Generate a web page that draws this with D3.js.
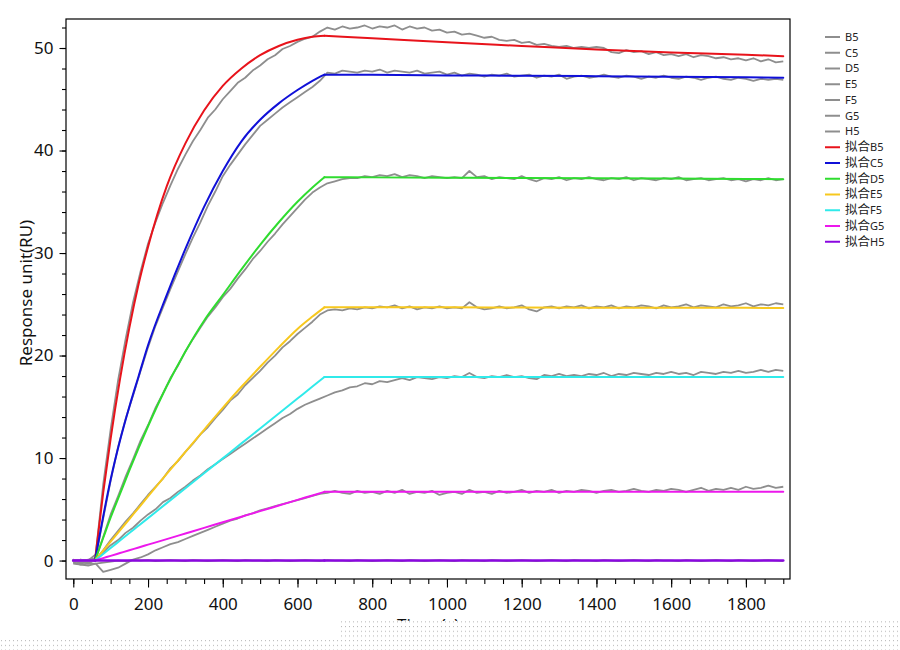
<!DOCTYPE html>
<html>
<head>
<meta charset="utf-8">
<script src="https://cdn.jsdelivr.net/npm/d3@7"></script>
<style>
    body { margin: 0; background: #fff; }
    text { font-family: "Noto Sans", "Noto Sans CJK SC", sans-serif; }
</style>
</head>
<body>
<div id="chart"></div>
<script>
// ---- data ----
var wells = ["B5", "C5", "D5", "E5", "F5", "G5", "H5"]
var legendLabels = ["B5", "C5", "D5", "E5", "F5", "G5", "H5",
    "拟合B5", "拟合C5", "拟合D5", "拟合E5", "拟合F5", "拟合G5", "拟合H5"]

var xTicks = [0, 200, 400, 600, 800, 1000, 1200, 1400, 1600, 1800]
var xMinorTicks = [0, 50, 100, 150, 200, 250, 300, 350, 400, 450, 500, 550, 600, 650, 700, 750, 800, 850, 900, 950,
    1000, 1050, 1100, 1150, 1200, 1250, 1300, 1350, 1400, 1450, 1500, 1550, 1600, 1650, 1700, 1750, 1800, 1850, 1900]
var yTicks = [0, 10, 20, 30, 40, 50]
var yMinorTicks = [0, 2, 4, 6, 8, 10, 12, 14, 16, 18, 20, 22, 24, 26, 28, 30, 32, 34, 36, 38, 40, 42, 44, 46, 48, 50, 52]

// measured curves (s, RU)
var timeRaw = [0, 20, 40, 60, 80, 100, 120, 140, 160, 180,
    200, 220, 240, 260, 280, 300, 320, 340, 360, 380,
    400, 420, 440, 460, 480, 500, 520, 540, 560, 580,
    600, 620, 640, 660, 680, 700, 720, 740, 760, 780,
    800, 820, 840, 860, 880, 900, 920, 940, 960, 980,
    1000, 1020, 1040, 1060, 1080, 1100, 1120, 1140, 1160, 1180,
    1200, 1220, 1240, 1260, 1280, 1300, 1320, 1340, 1360, 1380,
    1400, 1420, 1440, 1460, 1480, 1500, 1520, 1540, 1560, 1580,
    1600, 1620, 1640, 1660, 1680, 1700, 1720, 1740, 1760, 1780,
    1800, 1820, 1840, 1860, 1880, 1900]

var rawB5 = [0.1, -0.2, 0.0, 0.6, 7.4, 12.8, 17.6, 21.6, 25.2, 28.2,
    30.9, 33.0, 34.9, 36.6, 38.2, 39.6, 40.9, 42.0, 43.2, 44.0,
    45.0, 45.8, 46.6, 47.1, 47.8, 48.3, 48.9, 49.3, 49.9, 50.2,
    50.6, 50.9, 51.1, 51.6, 52.0, 51.8, 52.1, 51.9, 52.0, 52.2,
    51.9, 52.1, 52.0, 52.2, 51.8, 52.1, 51.9, 52.0, 51.7, 51.8,
    51.5, 51.6, 51.3, 51.4, 51.2, 51.0, 51.1, 50.8, 50.7, 50.8,
    50.5, 50.6, 50.3, 50.4, 50.2, 50.1, 50.2, 50.0, 50.1, 50.0,
    50.1, 50.0, 49.6, 49.5, 49.8, 49.6, 49.7, 49.4, 49.6, 49.3,
    49.4, 49.2, 49.4, 49.1, 49.3, 49.2, 49.0, 49.1, 48.9, 49.0,
    48.8, 49.0, 48.7, 48.9, 48.6, 48.7]

var rawC5 = [-0.1, 0.1, -0.2, 0.3, 4.1, 7.8, 11.1, 13.8, 16.1, 18.5,
    20.8, 22.9, 24.7, 26.5, 28.2, 29.9, 31.5, 33.0, 34.6, 36.0,
    37.5, 38.6, 39.6, 40.6, 41.5, 42.4, 43.0, 43.6, 44.2, 44.7,
    45.2, 45.7, 46.2, 46.8, 47.6, 47.5, 47.8, 47.7, 47.6, 47.8,
    47.7, 47.9, 47.6, 47.8, 47.7, 47.6, 47.8, 47.5, 47.6, 47.7,
    47.4, 47.6, 47.3, 47.5, 47.4, 47.2, 47.4, 47.3, 47.5, 47.2,
    47.3, 47.4, 47.1, 47.3, 47.2, 47.4, 47.0, 47.2, 47.3, 47.1,
    47.2, 47.4, 47.2, 47.1, 47.3, 47.2, 47.0, 47.2, 47.1, 47.3,
    47.1, 47.0, 47.2, 47.1, 46.9, 47.1, 47.2, 47.0, 46.9, 47.1,
    47.0, 46.8, 47.0, 46.9, 47.0, 46.9]

var rawD5 = [0.0, -0.2, 0.1, 0.2, 2.3, 4.5, 6.3, 8.2, 9.9, 11.7,
    13.2, 14.9, 16.3, 17.8, 19.0, 20.4, 21.6, 22.7, 23.8, 24.7,
    25.7, 26.5, 27.5, 28.4, 29.4, 30.2, 31.1, 31.9, 32.8, 33.6,
    34.4, 35.2, 35.9, 36.4, 36.8, 37.0, 37.2, 37.3, 37.3, 37.5,
    37.4, 37.6, 37.5, 37.7, 37.4, 37.6, 37.5, 37.3, 37.5, 37.4,
    37.3, 37.4, 37.3, 38.0, 37.4, 37.5, 37.2, 37.4, 37.3, 37.2,
    37.5, 37.2, 37.0, 37.3, 37.2, 37.4, 37.1, 37.3, 37.2, 37.4,
    37.2, 37.1, 37.3, 37.2, 37.4, 37.1, 37.3, 37.2, 37.1, 37.3,
    37.2, 37.4, 37.1, 37.2, 37.3, 37.1, 37.2, 37.3, 37.1, 37.2,
    37.0, 37.2, 37.1, 37.3, 37.1, 37.2]

var rawE5 = [-0.2, 0.0, -0.3, 0.1, 1.0, 2.0, 2.9, 3.8, 4.6, 5.5,
    6.4, 7.2, 8.0, 9.0, 9.7, 10.6, 11.4, 12.3, 13.0, 13.9,
    14.7, 15.6, 16.2, 17.1, 17.8, 18.5, 19.3, 20.0, 20.8, 21.4,
    22.1, 22.7, 23.3, 24.0, 24.4, 24.5, 24.4, 24.6, 24.5, 24.7,
    24.6, 24.8, 24.7, 24.9, 24.6, 24.8, 24.5, 24.7, 24.6, 24.8,
    24.6, 24.7, 24.6, 25.2, 24.7, 24.5, 24.6, 24.8, 24.6, 24.7,
    24.9, 24.5, 24.3, 24.7, 24.8, 24.6, 24.8, 24.7, 24.9, 24.6,
    24.8, 24.7, 24.9, 24.6, 24.8, 24.7, 24.9, 24.8, 24.6, 24.9,
    24.7, 24.8, 25.0, 24.7, 24.9, 24.8, 24.7, 25.0, 24.8, 24.9,
    25.1, 24.8, 25.0, 24.9, 25.1, 25.0]

var rawF5 = [0.1, -0.3, -0.1, 0.0, 0.8, 1.5, 2.0, 2.7, 3.2, 3.9,
    4.5, 5.0, 5.7, 6.1, 6.7, 7.2, 7.8, 8.3, 8.9, 9.4,
    9.9, 10.4, 10.9, 11.4, 11.9, 12.4, 12.9, 13.4, 13.9, 14.3,
    14.8, 15.2, 15.5, 15.8, 16.1, 16.4, 16.6, 16.9, 17.0, 17.3,
    17.2, 17.5, 17.4, 17.6, 17.8, 17.6, 17.9, 17.8, 17.7, 17.9,
    17.8, 18.0, 17.9, 18.3, 17.9, 17.8, 18.0, 17.9, 18.1, 17.9,
    18.0, 17.8, 17.7, 18.1, 18.0, 18.2, 18.0, 18.1, 18.0, 18.2,
    18.1, 18.3, 18.0, 18.2, 18.1, 18.3, 18.2, 18.1, 18.3, 18.2,
    18.4, 18.2, 18.3, 18.1, 18.4, 18.3, 18.2, 18.4, 18.3, 18.5,
    18.3, 18.4, 18.6, 18.4, 18.6, 18.5]

var rawG5 = [-0.2, -0.4, -0.3, -0.3, -1.1, -0.9, -0.7, -0.3, 0.1, 0.3,
    0.6, 1.0, 1.3, 1.6, 1.8, 2.1, 2.4, 2.7, 3.0, 3.3,
    3.6, 3.9, 4.1, 4.4, 4.6, 4.9, 5.1, 5.3, 5.5, 5.7,
    5.9, 6.1, 6.3, 6.5, 6.6, 6.8, 6.6, 6.5, 6.8, 6.6,
    6.7, 6.5, 6.8, 6.6, 6.9, 6.5, 6.7, 6.6, 6.8, 6.4,
    6.6, 6.7, 6.5, 6.9, 6.6, 6.7, 6.5, 6.8, 6.6, 6.7,
    6.9, 6.6, 6.8, 6.7, 6.9, 6.6, 6.8, 6.7, 6.9, 6.8,
    6.6, 6.8, 6.9, 6.7, 6.8, 7.0, 6.8, 6.7, 6.9, 6.8,
    7.0, 6.9, 6.7, 6.9, 7.1, 6.8, 7.0, 6.9, 7.1, 6.9,
    7.2, 7.0, 7.1, 7.3, 7.1, 7.2]

var rawH5 = [-0.3, -0.4, -0.5, -0.3, -0.2, -0.1, 0.0, -0.05, 0.05, 0.0,
    0.05, -0.05, 0.0, 0.05, 0.0, -0.05, 0.05, 0.0, -0.05, 0.0,
    0.05, 0.0, -0.05, 0.05, 0.0, 0.0, -0.05, 0.05, 0.0, -0.05,
    0.0, 0.05, 0.0, -0.05, 0.05, 0.0, 0.0, -0.05, 0.05, 0.0,
    -0.05, 0.0, 0.05, 0.0, -0.05, 0.05, 0.0, -0.05, 0.0, 0.05,
    0.0, -0.05, 0.05, 0.0, 0.0, -0.05, 0.05, 0.0, -0.05, 0.0,
    0.05, 0.0, -0.05, 0.0, 0.05, 0.0, -0.05, 0.05, 0.0, 0.0,
    -0.05, 0.05, 0.0, -0.05, 0.0, 0.05, 0.0, -0.05, 0.05, 0.0,
    0.0, -0.05, 0.05, 0.0, -0.05, 0.0, 0.05, 0.0, -0.05, 0.05,
    0.0, -0.05, 0.0, 0.05, 0.0, -0.05]

// fitted curves: baseline, association and dissociation phases
var baseT = [0, 58]
var assocT = [58, 80, 100, 125, 150, 175, 200, 250, 300, 350, 400, 450, 500, 550, 600, 640, 672]
var dissocT = [672, 800, 1000, 1200, 1400, 1600, 1800, 1900]

var assocB5 = [0, 6.6, 11.9, 17.7, 22.7, 27.0, 30.6, 36.5, 40.7, 43.9, 46.3, 48.0, 49.3, 50.2, 50.8, 51.1, 51.2]
var assocC5 = [0, 4.3, 7.9, 11.7, 15.0, 18.0, 21.0, 25.9, 30.4, 34.5, 38.0, 40.9, 43.0, 44.6, 45.9, 46.8, 47.4]
var assocD5 = [0, 2.2, 4.2, 6.5, 8.8, 11.0, 13.1, 17.0, 20.4, 23.4, 25.9, 28.4, 30.8, 33.0, 35.0, 36.4, 37.4]
var assocE5 = [0, 0.97, 1.85, 2.95, 4.05, 5.15, 6.25, 8.45, 10.6, 12.75, 14.9, 16.95, 18.9, 20.8, 22.6, 23.8, 24.7]
var assocF5 = [0, 0.64, 1.22, 1.95, 2.68, 3.41, 4.14, 5.6, 7.05, 8.51, 9.97, 11.43, 12.88, 14.34, 15.8, 16.97, 17.9]
var assocG5 = [0, 0.24, 0.46, 0.73, 1.0, 1.28, 1.55, 2.09, 2.64, 3.19, 3.73, 4.28, 4.82, 5.37, 5.92, 6.35, 6.7]
var assocH5 = [0, 0, 0, 0, 0, 0, 0, 0, 0, 0, 0, 0, 0, 0, 0, 0, 0]

var dissocB5 = [51.2, 50.95, 50.55, 50.2, 49.85, 49.55, 49.35, 49.2]
var dissocC5 = [47.4, 47.38, 47.33, 47.3, 47.25, 47.2, 47.15, 47.1]
var dissocD5 = [37.4, 37.38, 37.35, 37.32, 37.3, 37.27, 37.23, 37.2]
var dissocE5 = [24.7, 24.7, 24.7, 24.68, 24.67, 24.66, 24.65, 24.64]
var dissocF5 = [17.9, 17.9, 17.9, 17.9, 17.9, 17.9, 17.9, 17.9]
var dissocG5 = [6.7, 6.7, 6.7, 6.7, 6.7, 6.7, 6.7, 6.7]
var dissocH5 = [0, 0, 0, 0, 0, 0, 0, 0]

var rawColor = "#8e8e8e"
var fitColors = ["#e8131b", "#1010d8", "#2fdc2f", "#f7c81e", "#30eaea", "#ec18ec", "#8a07e0"]

var rawSeries = [rawB5, rawC5, rawD5, rawE5, rawF5, rawG5, rawH5]
var assocSeries = [assocB5, assocC5, assocD5, assocE5, assocF5, assocG5, assocH5]
var dissocSeries = [dissocB5, dissocC5, dissocD5, dissocE5, dissocF5, dissocG5, dissocH5]

// ---- layout ----
var width = 900
var height = 650
var frame = { left: 66, right: 790, top: 19, bottom: 579 }

var svg = d3.select('#chart')
            .append('svg')
            .attr('width', width)
            .attr('height', height)

var xScale = d3.scaleLinear()
                .domain([-19.5, 1918])
                .range([frame.left, frame.right])

var yScale = d3.scaleLinear()
                .domain([-1.8, 52.83])
                .range([frame.bottom, frame.top])

svg.append('clipPath')
    .attr('id', 'plotClip')
    .append('rect')
    .attr('x', frame.left)
    .attr('y', frame.top)
    .attr('width', frame.right - frame.left)
    .attr('height', frame.bottom - frame.top)

var plot = svg.append('g').attr('clip-path', 'url(#plotClip)')

var rawLine = d3.line()
                .x((d) => xScale(d[0]))
                .y((d) => yScale(d[1]))

var fitLine = d3.line()
                .x((d) => xScale(d[0]))
                .y((d) => yScale(d[1]))
                .curve(d3.curveMonotoneX)

// measured responses (grey)
rawSeries.forEach((vals) => {
    plot.append('path')
        .datum(d3.zip(timeRaw, vals))
        .attr('d', rawLine)
        .attr('fill', 'none')
        .attr('stroke', rawColor)
        .attr('stroke-width', 1.8)
        .attr('stroke-linejoin', 'round')
})

// fits on top
wells.forEach((w, i) => {
    var pieces = [
        d3.zip(baseT, [0, 0]),
        d3.zip(assocT, assocSeries[i]),
        d3.zip(dissocT, dissocSeries[i])
    ]
    pieces.forEach((p) => {
        plot.append('path')
            .datum(p)
            .attr('d', fitLine)
            .attr('fill', 'none')
            .attr('stroke', fitColors[i])
            .attr('stroke-width', w === "H5" ? 2.6 : 2)
            .attr('stroke-linecap', 'round')
            .attr('stroke-linejoin', 'round')
    })
})

// frame
svg.append('rect')
    .attr('x', frame.left)
    .attr('y', frame.top)
    .attr('width', frame.right - frame.left)
    .attr('height', frame.bottom - frame.top)
    .attr('fill', 'none')
    .attr('stroke', '#000')
    .attr('stroke-width', 1.2)

// x axis
var xMinor = svg.append('g')
    .attr('transform', 'translate(0,' + frame.bottom + ')')
    .call(d3.axisBottom(xScale).tickValues(xMinorTicks).tickSize(5).tickFormat(''))
var xMajor = svg.append('g')
    .attr('transform', 'translate(0,' + frame.bottom + ')')
    .call(d3.axisBottom(xScale).tickValues(xTicks).tickSize(8.5).tickPadding(10.5).tickFormat(d3.format('d')))

// y axis
var yMinor = svg.append('g')
    .attr('transform', 'translate(' + frame.left + ',0)')
    .call(d3.axisLeft(yScale).tickValues(yMinorTicks).tickSize(4).tickFormat(''))
var yMajor = svg.append('g')
    .attr('transform', 'translate(' + frame.left + ',0)')
    .call(d3.axisLeft(yScale).tickValues(yTicks).tickSize(6.5).tickPadding(6).tickFormat(d3.format('d')))

;[xMinor, xMajor, yMinor, yMajor].forEach((g) => {
    g.select('.domain').remove()
    g.selectAll('.tick line').attr('stroke', '#000').attr('stroke-width', 1.1)
    g.selectAll('.tick text')
        .attr('fill', '#111')
        .style('font-size', '17px')
        .style('font-family', '"Noto Sans", sans-serif')
})

// axis labels
svg.append('text')
    .attr('transform', 'translate(32,293)rotate(-90)')
    .attr('text-anchor', 'middle')
    .attr('fill', '#111')
    .style('font-size', '17px')
    .text('Response unit(RU)')

svg.append('text')
    .attr('x', 428)
    .attr('y', 631)
    .attr('text-anchor', 'middle')
    .attr('fill', '#111')
    .style('font-size', '17px')
    .text('Time (s)')

// legend
var legend = svg.append('g').attr('class', 'legend')
legendLabels.forEach((label, i) => {
    var yy = 37 + i * 15.75
    var col = i < 7 ? rawColor : fitColors[i - 7]
    legend.append('line')
        .attr('x1', 825).attr('x2', 840)
        .attr('y1', yy).attr('y2', yy)
        .attr('stroke', col)
        .attr('stroke-width', 2)
    var txt = legend.append('text')
        .attr('x', 845)
        .attr('y', yy)
        .attr('dy', '0.36em')
        .attr('fill', '#222')
        .style('font-size', '11px')
    if (i >= 7) {
        txt.append('tspan').style('font-size', '12.5px').text(label.slice(0, 2))
        txt.append('tspan').text(label.slice(2))
    } else {
        txt.text(label)
    }
})

// dotted strip along the lower edge of the picture
var pat = svg.append('defs').append('pattern')
    .attr('id', 'dots')
    .attr('patternUnits', 'userSpaceOnUse')
    .attr('width', 4)
    .attr('height', 4.7)
pat.append('rect').attr('width', 4).attr('height', 4.7).attr('fill', '#fff')
pat.append('rect').attr('x', 1).attr('y', 1).attr('width', 1).attr('height', 1).attr('fill', '#b4b4b4')

svg.append('rect')
    .attr('x', 338).attr('y', 621)
    .attr('width', width - 338).attr('height', 17)
    .attr('fill', 'url(#dots)')
svg.append('rect')
    .attr('x', 0).attr('y', 638)
    .attr('width', width).attr('height', height - 638)
    .attr('fill', 'url(#dots)')
</script>
</body>
</html>
